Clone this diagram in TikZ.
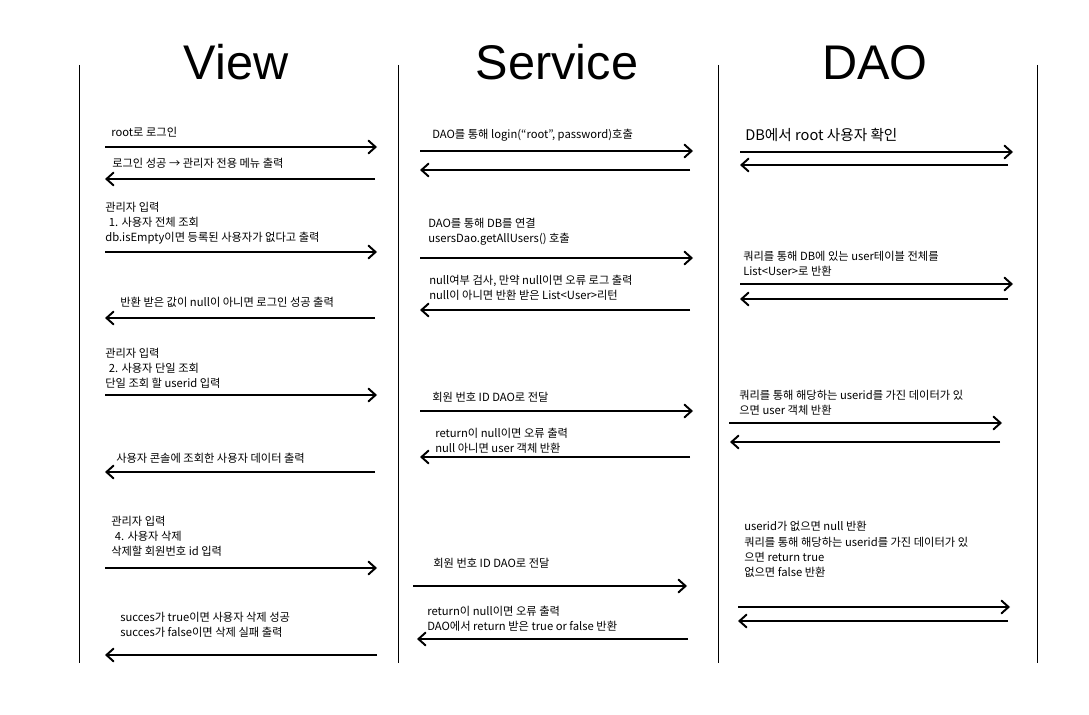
\documentclass[tikz,border=0pt]{standalone}
\usepackage{fontspec}
\setmainfont{Noto Sans CJK KR}
\newfontfamily\headfont{Liberation Sans}
\usetikzlibrary{arrows.meta}

\tikzset{
  msg/.style={line width=1.4pt, -{Straight Barb[length=5pt,width=9pt,line cap=round]}},
  life/.style={line width=0.7pt},
  note/.style={anchor=west, align=left, inner sep=0pt, font=\fontsize{8}{10.8}\selectfont},
  head/.style={font=\headfont\fontsize{34.6}{38}\selectfont}
}

\begin{document}
\begin{tikzpicture}[x=0.025cm, y=-0.025cm]
  \useasboundingbox (0,0) rectangle (1089,715);
  \fill[white] (0,0) rectangle (1089,715);

  \node[head] (view) at (236,62.5) {View};
  \node[head] (service) at (557,62.5) {Service};
  \node[head] (dao) at (875,62.5) {DAO};

  \coordinate (L1t) at (79,65);   \coordinate (L1b) at (79,663);
  \coordinate (L2t) at (398,65);  \coordinate (L2b) at (398,663);
  \coordinate (L3t) at (718,65);  \coordinate (L3b) at (718,663);
  \coordinate (L4t) at (1037,65); \coordinate (L4b) at (1037,663);
  \draw[life] (L1t) -- (L1b) (L2t) -- (L2b) (L3t) -- (L3b) (L4t) -- (L4b);

  % View
  \node[note] (v1) at (111,132) {root로 로그인};
  \coordinate (V1a) at (105,147); \coordinate (V1b) at (377,147);
  \draw[msg] (V1a) -- (V1b);
  \node[note] (v2) at (112,163) {로그인 성공 → 관리자 전용 메뉴 출력};
  \coordinate (V2a) at (105,179); \coordinate (V2b) at (375,179);
  \draw[msg] (V2b) -- (V2a);
  \node[note] (v3) at (105,223) {관리자 입력\\\hspace*{2.5pt}1. 사용자 전체 조회\\db.isEmpty이면 등록된 사용자가 없다고 출력};
  \coordinate (V3a) at (105,252); \coordinate (V3b) at (377,252);
  \draw[msg] (V3a) -- (V3b);
  \node[note] (v4) at (120,302) {반환 받은 값이 null이 아니면 로그인 성공 출력};
  \coordinate (V4a) at (105,318); \coordinate (V4b) at (375,318);
  \draw[msg] (V4b) -- (V4a);
  \node[note] (v5) at (105,368) {관리자 입력\\\hspace*{2.5pt}2. 사용자 단일 조회\\단일 조회 할 userid 입력};
  \coordinate (V5a) at (105,395); \coordinate (V5b) at (377,395);
  \draw[msg] (V5a) -- (V5b);
  \node[note] (v6) at (116,458) {사용자 콘솔에 조회한 사용자 데이터 출력};
  \coordinate (V6a) at (105,472); \coordinate (V6b) at (375,472);
  \draw[msg] (V6b) -- (V6a);
  \node[note] (v7) at (111,536) {관리자 입력\\\hspace*{2.5pt}4. 사용자 삭제\\삭제할 회원번호 id 입력};
  \coordinate (V7a) at (105,568); \coordinate (V7b) at (377,568);
  \draw[msg] (V7a) -- (V7b);
  \node[note] (v8) at (120,625) {succes가 true이면 사용자 삭제 성공\\succes가 false이면 삭제 실패 출력};
  \coordinate (V8a) at (105,655); \coordinate (V8b) at (377,655);
  \draw[msg] (V8b) -- (V8a);

  % Service
  \node[note] (s1) at (432,135) {DAO를 통해 login(“root”, password)호출};
  \coordinate (S1a) at (420,151); \coordinate (S1b) at (693,151);
  \draw[msg] (S1a) -- (S1b);
  \coordinate (S2a) at (420,170); \coordinate (S2b) at (690,170);
  \draw[msg] (S2b) -- (S2a);
  \node[note] (s3) at (428,231.5) {DAO를 통해 DB를 연결\\usersDao.getAllUsers() 호출};
  \coordinate (S3a) at (420,258); \coordinate (S3b) at (693,258);
  \draw[msg] (S3a) -- (S3b);
  \node[note] (s4) at (429,287.5) {null여부 검사, 만약 null이면 오류 로그 출력\\null이 아니면 반환 받은 List<User>리턴};
  \coordinate (S4a) at (420,310); \coordinate (S4b) at (690,310);
  \draw[msg] (S4b) -- (S4a);
  \node[note] (s5) at (432,397) {회원 번호 ID DAO로 전달};
  \coordinate (S5a) at (420,411); \coordinate (S5b) at (693,411);
  \draw[msg] (S5a) -- (S5b);
  \node[note] (s6) at (435,441) {return이 null이면 오류 출력\\null 아니면 user 객체 반환};
  \coordinate (S6a) at (420,457); \coordinate (S6b) at (690,457);
  \draw[msg] (S6b) -- (S6a);
  \node[note] (s7) at (433,563) {회원 번호 ID DAO로 전달};
  \coordinate (S7a) at (413,586); \coordinate (S7b) at (687,586);
  \draw[msg] (S7a) -- (S7b);
  \node[note] (s8) at (427,618.5) {return이 null이면 오류 출력\\DAO에서 return 받은 true or false 반환};
  \coordinate (S8a) at (417,639); \coordinate (S8b) at (688,639);
  \draw[msg] (S8b) -- (S8a);

  % DAO
  \node[note, font=\fontsize{10.4}{12}\selectfont] (d1) at (745,135) {DB에서 root 사용자 확인};
  \coordinate (D1a) at (740,152); \coordinate (D1b) at (1013,152);
  \draw[msg] (D1a) -- (D1b);
  \coordinate (D2a) at (740,165); \coordinate (D2b) at (1008,165);
  \draw[msg] (D2b) -- (D2a);
  \node[note] (d3) at (743,263.5) {쿼리를 통해 DB에 있는 user테이블 전체를\\List<User>로 반환};
  \coordinate (D3a) at (740,284); \coordinate (D3b) at (1013,284);
  \draw[msg] (D3a) -- (D3b);
  \coordinate (D4a) at (740,299); \coordinate (D4b) at (1008,299);
  \draw[msg] (D4b) -- (D4a);
  \node[note] (d5) at (739,403) {쿼리를 통해 해당하는 userid를 가진 데이터가 있\\으면 user 객체 반환};
  \coordinate (D5a) at (729,423); \coordinate (D5b) at (1002,423);
  \draw[msg] (D5a) -- (D5b);
  \coordinate (D6a) at (730,442); \coordinate (D6b) at (1000,442);
  \draw[msg] (D6b) -- (D6a);
  \node[note] (d7) at (744,549.5) {userid가 없으면 null 반환\\쿼리를 통해 해당하는 userid를 가진 데이터가 있\\으면 return true\\없으면 false 반환};
  \coordinate (D7a) at (738,607); \coordinate (D7b) at (1010,607);
  \draw[msg] (D7a) -- (D7b);
  \coordinate (D8a) at (738,621); \coordinate (D8b) at (1008,621);
  \draw[msg] (D8b) -- (D8a);
\end{tikzpicture}
\end{document}
